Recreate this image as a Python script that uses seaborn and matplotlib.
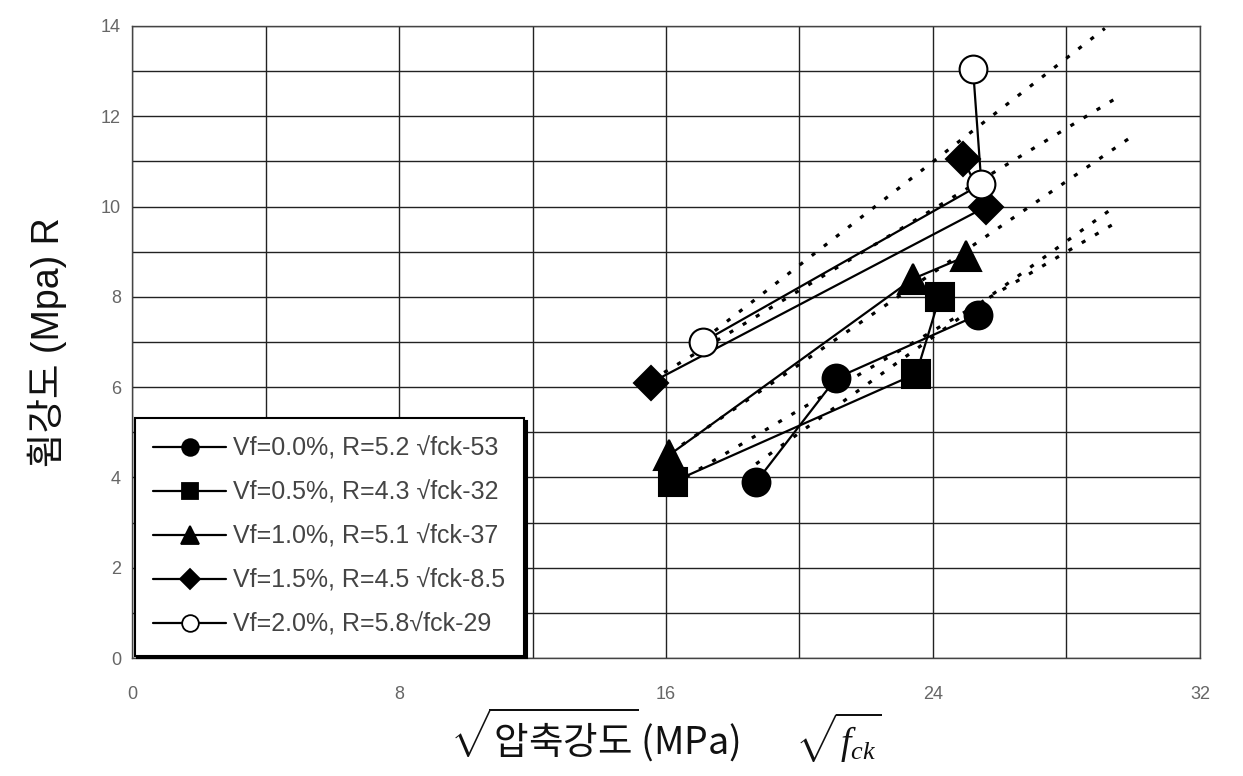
import numpy as np
import pandas as pd
import matplotlib
matplotlib.use("Agg")
import matplotlib.pyplot as plt
import seaborn as sns
from matplotlib.lines import Line2D

# ---- data ----
series_labels = [
    "Vf=0.0%, R=5.2 √fck-53",
    "Vf=0.5%, R=4.3 √fck-32",
    "Vf=1.0%, R=5.1 √fck-37",
    "Vf=1.5%, R=4.5 √fck-8.5",
    "Vf=2.0%, R=5.8√fck-29",
]
x_vf00 = [18.7, 21.1, 25.35]
y_vf00 = [3.9, 6.2, 7.6]
x_vf05 = [16.2, 23.5, 24.2]
y_vf05 = [3.9, 6.3, 8.0]
x_vf10 = [16.1, 23.4, 25.0]
y_vf10 = [4.5, 8.4, 8.9]
x_vf15 = [15.55, 25.6, 24.9]
y_vf15 = [6.1, 10.0, 11.05]
x_vf20 = [17.1, 25.45, 25.2]
y_vf20 = [7.0, 10.5, 13.05]
trend_end_x = [29.4, 29.5, 30.1, 29.5, 29.15]

xs = [x_vf00, x_vf05, x_vf10, x_vf15, x_vf20]
ys = [y_vf00, y_vf05, y_vf10, y_vf15, y_vf20]

x_ticks = [0, 8, 16, 24, 32]
y_ticks = [0, 2, 4, 6, 8, 10, 12, 14]

markers = ["o", "s", "^", "D", "o"]
msizes = [20, 20, 21, 17, 20]
faces = ["black", "black", "black", "black", "white"]

sns.set_theme(style="white")
plt.rcParams["font.family"] = ["Liberation Sans", "Noto Sans CJK KR", "DejaVu Sans"]
plt.rcParams["mathtext.fontset"] = "custom"
plt.rcParams["mathtext.rm"] = "Noto Sans CJK KR"
plt.rcParams["mathtext.it"] = "Liberation Serif:italic"

fig = plt.figure(figsize=(12.43, 7.76), dpi=100)
ax = fig.add_axes([0.1062, 0.152, 0.8592, 0.8145])

for i in range(5):
    df = pd.DataFrame({"x": xs[i], "y": ys[i]})
    sns.lineplot(data=df, x="x", y="y", sort=False, estimator=None, ax=ax,
                 color="black", linewidth=1.6, marker=markers[i],
                 markersize=msizes[i], markerfacecolor=faces[i],
                 markeredgecolor="black", markeredgewidth=1.5, zorder=4)
    # linear trendline (dotted), extended forward
    k, b = np.polyfit(xs[i], ys[i], 1)
    tx = np.array([min(xs[i]), trend_end_x[i]])
    ax.plot(tx, k * tx + b, linestyle=(0, (1.3, 3.5)), color="black",
            linewidth=2.3, zorder=3)

ax.set_xlim(0, 32)
ax.set_ylim(0, 14)
ax.set_xticks(x_ticks)
ax.set_yticks(y_ticks)
ax.set_xticks(np.arange(0, 33, 4), minor=True)
ax.set_yticks(np.arange(0, 15, 1), minor=True)
ax.grid(True, which="both", color="#222222", linewidth=1.0)
ax.set_axisbelow(True)
for s in ax.spines.values():
    s.set_color("#444444")
    s.set_linewidth(1.0)
ax.tick_params(axis="both", which="major", labelsize=13, labelcolor="#666666",
               length=0)
ax.tick_params(axis="x", pad=20)
ax.tick_params(axis="y", pad=8)
ax.tick_params(axis="both", which="minor", length=0)

ax.set_ylabel("휨강도 (Mpa) R", fontsize=27, color="#111111", labelpad=24,
              family=["Liberation Sans", "Noto Sans CJK KR"])
ax.set_xlabel(r"$\sqrt{\mathrm{압축강도}}\,\mathrm{(MPa)}\qquad\sqrt{f_{ck}}$",
              fontsize=27, color="#111111", labelpad=2)

handles = [Line2D([0], [0], color="black", linewidth=1.6, marker=markers[i],
                  markersize=msizes[i] * 0.6, markerfacecolor=faces[i],
                  markeredgecolor="black", markeredgewidth=1.3)
           for i in range(5)]
leg = ax.legend(handles, series_labels, loc="lower left", bbox_to_anchor=(0, 0),
                borderaxespad=0.1, fontsize=18, handlelength=2.9,
                labelspacing=0.8, borderpad=0.75, handletextpad=0.3,
                frameon=True, fancybox=False, edgecolor="black",
                shadow={"color": "black", "alpha": 1.0})
leg.get_frame().set_linewidth(1.5)
for t in leg.get_texts():
    t.set_color("#444444")

fig.savefig("out.png", dpi=100, facecolor="white")
